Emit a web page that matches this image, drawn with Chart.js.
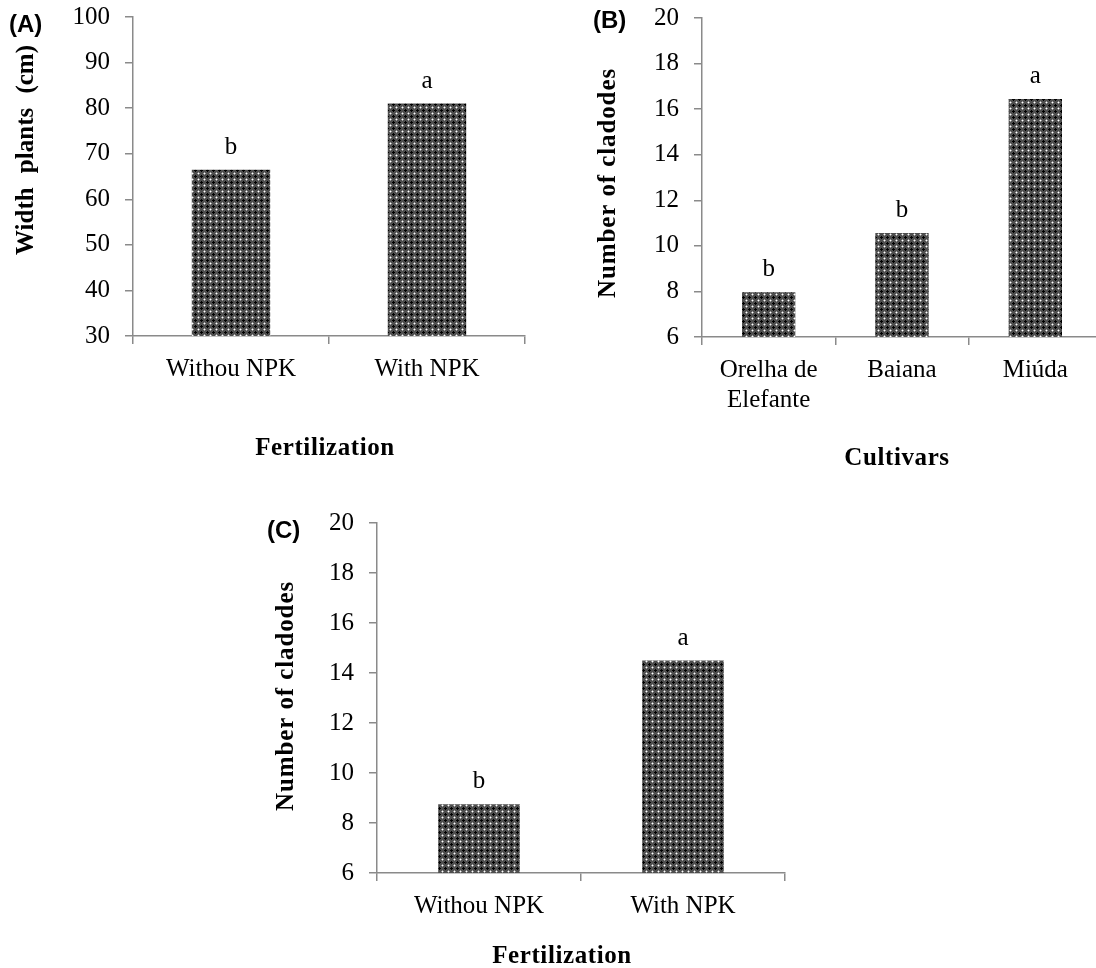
<!DOCTYPE html>
<html>
<head>
<meta charset="utf-8">
<script src="https://cdn.jsdelivr.net/npm/chart.js@4/dist/chart.umd.min.js"></script>
<style>
html,body{margin:0;padding:0;background:#fff;overflow:hidden;width:1096px;height:968px;}
canvas{position:absolute;}
</style>
</head>
<body>
<canvas id="cA" width="540" height="483" style="left:0;top:-13px"></canvas>
<canvas id="cB" width="545" height="492" style="left:560px;top:-12px"></canvas>
<canvas id="cC" width="560" height="475" style="left:250px;top:493px"></canvas>
<script>
// ---- data ----
const catsA = ['Withou NPK', 'With NPK'];
const valsA = [66.5, 81];
const lettersA = ['b', 'a'];
const ticksA = {min: 30, max: 100, step: 10};

const catsB = [['Orelha de', 'Elefante'], 'Baiana', 'Miúda'];
const valsB = [7.96, 10.56, 16.45];
const lettersB = ['b', 'b', 'a'];
const ticksB = {min: 6, max: 20, step: 2};

const catsC = ['Withou NPK', 'With NPK'];
const valsC = [8.75, 14.5];
const lettersC = ['b', 'a'];
const ticksC = {min: 6, max: 20, step: 2};

// ---- style ----
const SERIF = "'Liberation Serif','Times New Roman',serif";
const SANS = "'Liberation Sans',Arial,sans-serif";
const AXIS = '#8a8a8a';

function makePattern() {
  const t = document.createElement('canvas');
  t.width = 6; t.height = 6;
  const g = t.getContext('2d');
  g.fillStyle = '#4e4e4e'; g.fillRect(0, 0, 6, 6);
  g.fillStyle = '#000';
  g.fillRect(2, 3, 3, 1);
  g.fillRect(3, 2, 1, 3);
  g.fillStyle = '#a0a0a0';
  g.fillRect(1, 0, 1, 1); g.fillRect(5, 0, 1, 1);
  g.fillRect(0, 1, 1, 1); g.fillRect(0, 5, 1, 1);
  g.fillStyle = '#ffffff'; g.fillRect(0, 0, 1, 1);
  return g.createPattern(t, 'repeat');
}

function textPlugin(cfg) {
  return {
    id: 'txt',
    afterDraw(chart) {
      const ctx = chart.ctx;
      ctx.save();
      ctx.fillStyle = '#000';
      const meta = chart.getDatasetMeta(0);
      ctx.font = '25px ' + SERIF;
      ctx.textAlign = 'center';
      ctx.textBaseline = 'alphabetic';
      meta.data.forEach((bar, i) => {
        ctx.fillText(cfg.letters[i], bar.x, bar.y - 16);
      });
      ctx.font = 'bold 24px ' + SANS;
      ctx.textAlign = 'left';
      ctx.fillText(cfg.panel[0], cfg.panel[1], cfg.panel[2]);
      ctx.font = 'bold 25px ' + SERIF;
      ctx.textAlign = 'center';
      ctx.letterSpacing = cfg.xt[3] + 'px';
      ctx.fillText(cfg.xt[0], cfg.xt[1], cfg.xt[2]);
      ctx.translate(cfg.yt[1], cfg.yt[2]);
      ctx.rotate(-Math.PI / 2);
      ctx.letterSpacing = cfg.yt[3] + 'px';
      ctx.wordSpacing = cfg.yt[4] + 'px';
      ctx.textAlign = 'center';
      ctx.fillText(cfg.yt[0], 0, 0);
      ctx.restore();
    }
  };
}

function build(id, cats, vals, tk, geom, cfg) {
  const pattern = makePattern();
  return new Chart(document.getElementById(id), {
    type: 'bar',
    data: {
      labels: cats,
      datasets: [{data: vals, backgroundColor: pattern, borderWidth: 0,
                  barPercentage: 0.4, categoryPercentage: 1.0}]
    },
    options: {
      responsive: false,
      animation: false,
      devicePixelRatio: 1,
      layout: {padding: {left: 0, top: 30, right: geom.right, bottom: 0}},
      plugins: {legend: {display: false}, tooltip: {enabled: false}},
      scales: {
        x: {
          type: 'category',
          offset: true,
          grid: {offset: true, drawOnChartArea: false, drawTicks: true, tickLength: 8, color: AXIS, lineWidth: 1.5},
          border: {display: true, color: AXIS, width: 1.5},
          ticks: {color: '#000', font: {family: SERIF, size: 25, lineHeight: 1.22}, padding: 10, maxRotation: 0, autoSkip: false},
          afterFit: s => { s.height = geom.xh; }
        },
        y: {
          min: tk.min, max: tk.max,
          grid: {drawOnChartArea: false, drawTicks: true, tickLength: 8, color: AXIS, lineWidth: 1.5},
          border: {display: true, color: AXIS, width: 1.5},
          ticks: {stepSize: tk.step, color: '#000', font: {family: SERIF, size: 25}, padding: 15},
          afterFit: s => { s.width = geom.yw; }
        }
      }
    },
    plugins: [textPlugin(cfg)]
  });
}

build('cA', catsA, valsA, ticksA, {right: 15, xh: 134, yw: 133}, {
  letters: lettersA, panel: ['(A)', 9, 45],
  xt: ['Fertilization', 325, 468, 0.6],
  yt: ['Width plants (cm)', 33, 163, 0, 8]
});
build('cB', catsB, valsB, ticksB, {right: 3, xh: 143, yw: 142}, {
  letters: lettersB, panel: ['(B)', 33, 40],
  xt: ['Cultivars', 337, 477, 0.6],
  yt: ['Number of cladodes', 55, 195, 0.9, 0]
});
build('cC', catsC, valsC, ticksC, {right: 25, xh: 95, yw: 127}, {
  letters: lettersC, panel: ['(C)', 17, 45],
  xt: ['Fertilization', 312, 470, 0.6],
  yt: ['Number of cladodes', 43, 203, 0.9, 0]
});
</script>
</body>
</html>
